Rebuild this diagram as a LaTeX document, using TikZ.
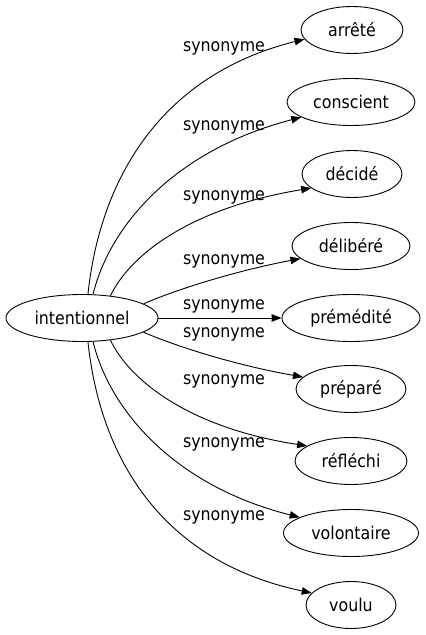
\documentclass[tikz,border=0pt]{standalone}
\usepackage{fontspec}
\setmainfont{DejaVu Sans Condensed}
\usetikzlibrary{shapes.geometric,arrows.meta}
\begin{document}
\begin{tikzpicture}[x=1pt,y=-1pt,
  every node/.style={font=\fontsize{17.6}{20}\selectfont},
  word/.style={ellipse,draw,line width=0.9pt,inner sep=0pt,minimum height=47pt},
  lbl/.style={inner sep=0pt},
  edge/.style={line width=0.9pt,-{Triangle[length=10pt,width=7.5pt]}}]
\useasboundingbox (0,0) rectangle (426,635);
\node[word,minimum width=152pt] (i) at (82,318) {intentionnel};
\node[word,minimum width=102pt] (a) at (352,30) {arrêté};
\node[word,minimum width=128pt] (c) at (351,102) {conscient};
\node[word,minimum width=100pt] (d) at (352,174) {décidé};
\node[word,minimum width=118pt] (de) at (351,246) {délibéré};
\node[word,minimum width=138pt] (p) at (351,318) {prémédité};
\node[word,minimum width=110pt] (pr) at (351,389) {préparé};
\node[word,minimum width=112pt] (r) at (351,461) {réfléchi};
\node[word,minimum width=135pt] (v) at (351,533) {volontaire};
\node[word,minimum width=90pt] (vo) at (351,605) {voulu};
\draw[edge] (i.76) .. controls (100,180) and (160,75) .. (a.191);
\draw[edge] (i.65) .. controls (110,225) and (175,150) .. (c.197);
\draw[edge] (i.38) .. controls (130,255) and (190,208) .. (d.199);
\draw[edge] (i.13) .. controls (180,288) and (240,270) .. (de.194);
\draw[edge] (i.east) -- (p.west);
\draw[edge] (i.-13) .. controls (180,348) and (240,366) .. (pr.166);
\draw[edge] (i.-38) .. controls (130,381) and (190,428) .. (r.161);
\draw[edge] (i.-65) .. controls (110,411) and (175,486) .. (v.163);
\draw[edge] (i.-76) .. controls (100,456) and (160,561) .. (vo.163);
\node[lbl] (l1) at (224,48) {synonyme};
\node[lbl] (l2) at (224,127) {synonyme};
\node[lbl] (l3) at (224,197) {synonyme};
\node[lbl] (l4) at (224,261) {synonyme};
\node[lbl] (l5) at (224,306) {synonyme};
\node[lbl] (l6) at (224,334) {synonyme};
\node[lbl] (l7) at (224,381) {synonyme};
\node[lbl] (l8) at (224,444) {synonyme};
\node[lbl] (l9) at (224,517) {synonyme};
\end{tikzpicture}
\end{document}
